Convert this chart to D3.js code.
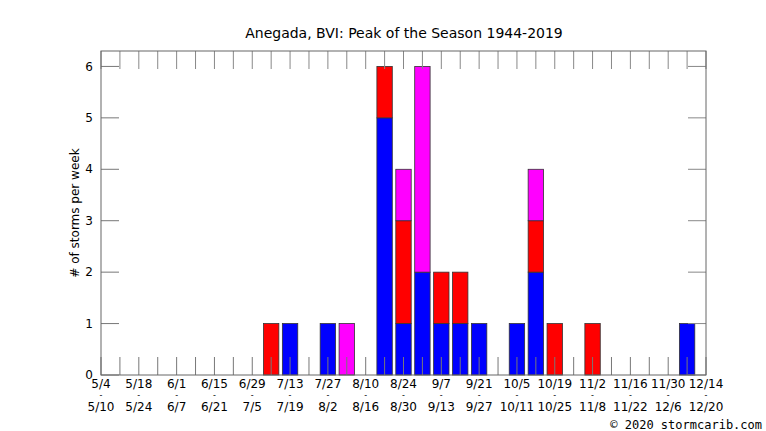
<!DOCTYPE html>
<html>
<head>
<meta charset="utf-8">
<script src="https://cdn.jsdelivr.net/npm/d3@7"></script>
<style>
  body { margin: 0; background: #fff; }
  text { font-family: "DejaVu Sans", sans-serif; fill: #000; }
</style>
</head>
<body>
<div id="chart"></div>
<script>
// week slots, 5/4 ... 12/14 (33 weeks), every other one gets a label
var weekStarts = ["5/4","5/18","6/1","6/15","6/29","7/13","7/27","8/10","8/24","9/7","9/21","10/5","10/19","11/2","11/16","11/30","12/14"];
var weekEnds = ["5/10","5/24","6/7","6/21","7/5","7/19","8/2","8/16","8/30","9/13","9/27","10/11","10/25","11/8","11/22","12/6","12/20"];
var yTicks = [0, 1, 2, 3, 4, 5, 6];

// storms per week, index 0 = week of 5/4
var blueStorms    = [0,0,0,0,0,0,0,0,0,0,1,0,1,0,0,5,1,2,1,1,1,0,1,2,0,0,0,0,0,0,0,1,0];
var redStorms     = [0,0,0,0,0,0,0,0,0,1,0,0,0,0,0,1,2,0,1,1,0,0,0,1,1,0,1,0,0,0,0,0,0];
var magentaStorms = [0,0,0,0,0,0,0,0,0,0,0,0,0,1,0,0,1,4,0,0,0,0,0,1,0,0,0,0,0,0,0,0,0];

var config = {
  w: 766,
  h: 431,
  margin: {top: 51, right: 60, bottom: 56, left: 101},
  yMax: 6.3,
  barWidth: 15.4,
  tickLen: 18
};

var rows = blueStorms.map(function(d, i){
  return {week: i, blue: d, red: redStorms[i], magenta: magentaStorms[i]};
});
var colors = {blue: "#0000ff", red: "#ff0000", magenta: "#ff00ff"};

var innerW = config.w - config.margin.left - config.margin.right;
var innerH = config.h - config.margin.top - config.margin.bottom;

var x = d3.scaleLinear().domain([0, blueStorms.length - 1]).range([0, innerW]);
var y = d3.scaleLinear().domain([0, config.yMax]).range([innerH, 0]);

var svg = d3.select("#chart").append("svg")
  .attr("width", config.w)
  .attr("height", config.h);

svg.append("text")
  .attr("x", 404)
  .attr("y", 38)
  .attr("text-anchor", "middle")
  .style("font-size", "14px")
  .text("Anegada, BVI: Peak of the Season 1944-2019");

svg.append("text")
  .attr("transform", "translate(79," + (config.margin.top + innerH / 2) + ") rotate(-90)")
  .attr("text-anchor", "middle")
  .style("font-size", "12px")
  .text("# of storms per week");

svg.append("text")
  .attr("x", 762)
  .attr("y", 429)
  .attr("text-anchor", "end")
  .style("font-family", "'DejaVu Sans Mono', monospace")
  .style("font-size", "12px")
  .text("\u00a9 2020 stormcarib.com");

var g = svg.append("g")
  .attr("transform", "translate(" + config.margin.left + "," + config.margin.top + ")");

// stacked bars
var stack = d3.stack().keys(["blue", "red", "magenta"]);
var layers = stack(rows);

g.selectAll(".layer")
  .data(layers)
  .enter()
  .append("g")
  .attr("class", "layer")
  .style("fill", function(d){ return colors[d.key]; })
  .selectAll("rect")
  .data(function(d){ return d.filter(function(s){ return s[1] > s[0]; }); })
  .enter()
  .append("rect")
  .attr("x", function(d){ return x(d.data.week) - config.barWidth / 2; })
  .attr("y", function(d){ return y(d[1]); })
  .attr("width", config.barWidth)
  .attr("height", function(d){ return y(d[0]) - y(d[1]); })
  .style("stroke", "#333")
  .style("stroke-width", 0.8);

// week ticks, top and bottom
var weeks = d3.range(blueStorms.length);
g.selectAll(".xtickB")
  .data(weeks)
  .enter()
  .append("line")
  .attr("x1", function(d){ return x(d); })
  .attr("x2", function(d){ return x(d); })
  .attr("y1", innerH)
  .attr("y2", innerH - config.tickLen)
  .style("stroke", "#777")
  .style("stroke-width", 1);

g.selectAll(".xtickT")
  .data(weeks)
  .enter()
  .append("line")
  .attr("x1", function(d){ return x(d); })
  .attr("x2", function(d){ return x(d); })
  .attr("y1", 0)
  .attr("y2", config.tickLen)
  .style("stroke", "#888")
  .style("stroke-width", 1);

// y ticks left and right
g.selectAll(".ytickL")
  .data(yTicks)
  .enter()
  .append("line")
  .attr("x1", 0)
  .attr("x2", config.tickLen)
  .attr("y1", function(d){ return y(d); })
  .attr("y2", function(d){ return y(d); })
  .style("stroke", "#777");

g.selectAll(".ytickR")
  .data(yTicks)
  .enter()
  .append("line")
  .attr("x1", innerW)
  .attr("x2", innerW - config.tickLen)
  .attr("y1", function(d){ return y(d); })
  .attr("y2", function(d){ return y(d); })
  .style("stroke", "#888");

g.append("rect")
  .attr("width", innerW)
  .attr("height", innerH)
  .style("fill", "none")
  .style("stroke", "#666")
  .style("stroke-width", 1);

g.selectAll(".ylabel")
  .data(yTicks)
  .enter()
  .append("text")
  .attr("x", -8)
  .attr("y", function(d){ return y(d); })
  .attr("dy", "0.35em")
  .attr("text-anchor", "end")
  .style("font-size", "12px")
  .text(function(d){ return d; });

// two-line week labels: start, dash, end
g.selectAll(".xstart")
  .data(weekStarts)
  .enter()
  .append("text")
  .attr("x", function(d, i){ return x(i * 2); })
  .attr("y", innerH + 13)
  .attr("text-anchor", "middle")
  .style("font-size", "12px")
  .text(function(d){ return d; });

g.selectAll(".xdash")
  .data(weekStarts)
  .enter()
  .append("text")
  .attr("x", function(d, i){ return x(i * 2); })
  .attr("y", innerH + 23)
  .attr("text-anchor", "middle")
  .style("font-size", "8px")
  .text("-");

g.selectAll(".xend")
  .data(weekEnds)
  .enter()
  .append("text")
  .attr("x", function(d, i){ return x(i * 2); })
  .attr("y", innerH + 36)
  .attr("text-anchor", "middle")
  .style("font-size", "12px")
  .text(function(d){ return d; });
</script>
</body>
</html>
